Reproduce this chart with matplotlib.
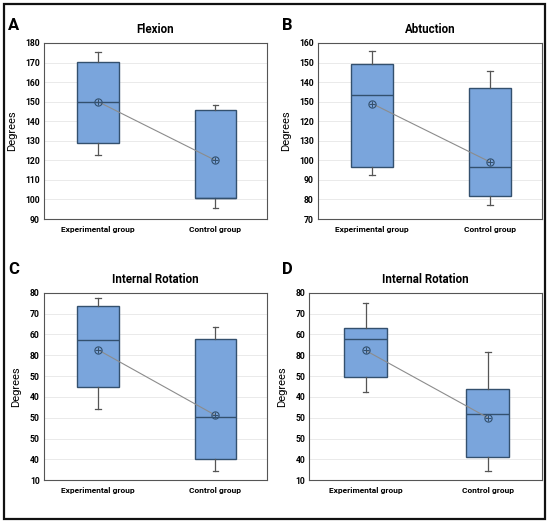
import numpy as np
import matplotlib
matplotlib.use("Agg")
import matplotlib.pyplot as plt
from matplotlib.patches import Rectangle

plt.rcParams['font.family'] = ['Roboto', 'DejaVu Sans']

# group names on the x axis
groups = ["Experimental group", "Control group"]

# panel letters and titles
letters = ["A", "B", "C", "D"]
titles = ["Flexion", "Abtuction", "Internal Rotation", "Internal Rotation"]

# y ticks (numeric positions) and the labels as printed on the figure
yticks_A = [90, 100, 110, 120, 130, 140, 150, 160, 170, 180]
ylabels_A = ["90", "100", "110", "120", "130", "140", "150", "160", "170", "180"]
yticks_B = [70, 80, 90, 100, 110, 120, 130, 140, 150, 160]
ylabels_B = ["70", "80", "90", "100", "130", "120", "150", "140", "150", "160"]
yticks_C = [0, 10, 20, 30, 40, 50, 60, 70, 80, 90]
ylabels_C = ["10", "40", "50", "50", "40", "50", "80", "60", "70", "80"]
yticks_D = [0, 10, 20, 30, 40, 50, 60, 70, 80, 90]
ylabels_D = ["10", "40", "50", "50", "40", "50", "80", "60", "70", "80"]

# box statistics per panel: [experimental, control]
whislo_A = [122.7, 95.7]
q1_A = [128.7, 100.8]
med_A = [149.7, 100.8]
q3_A = [170.5, 145.5]
whishi_A = [175.3, 148.5]
mean_A = [150.0, 120.0]

whislo_B = [92.7, 77.0]
q1_B = [96.6, 81.6]
med_B = [133.6, 96.8]
q3_B = [149.5, 137.2]
whishi_B = [155.9, 145.9]
mean_B = [129.0, 99.2]

whislo_C = [34.2, 4.5]
q1_C = [45.0, 10.2]
med_C = [67.4, 30.2]
q3_C = [83.4, 67.6]
whishi_C = [87.4, 73.5]
mean_C = [62.6, 31.2]

whislo_D = [42.5, 4.6]
q1_D = [49.7, 11.0]
med_D = [67.6, 31.8]
q3_D = [73.3, 43.6]
whishi_D = [85.3, 61.5]
mean_D = [62.3, 30.0]

panels = [
    (yticks_A, ylabels_A, whislo_A, q1_A, med_A, q3_A, whishi_A, mean_A),
    (yticks_B, ylabels_B, whislo_B, q1_B, med_B, q3_B, whishi_B, mean_B),
    (yticks_C, ylabels_C, whislo_C, q1_C, med_C, q3_C, whishi_C, mean_C),
    (yticks_D, ylabels_D, whislo_D, q1_D, med_D, q3_D, whishi_D, mean_D),
]

# axes rectangles in figure fractions
rects = [
    [0.080, 0.582, 0.4055, 0.336],
    [0.578, 0.582, 0.407, 0.336],
    [0.080, 0.0834, 0.4055, 0.358],
    [0.5624, 0.0834, 0.4225, 0.358],
]

BOX = "#7aa5dc"
EDGE = "#33506e"

fig = plt.figure(figsize=(5.5, 5.24), dpi=100)
fig.patch.set_facecolor("white")
fig.add_artist(Rectangle((4 / 550, 5 / 524), 541 / 550, 515 / 524,
                         transform=fig.transFigure, fill=False,
                         edgecolor="#111111", linewidth=1.6))

pos = [1, 2]
for i in range(4):
    yt, yl, wlo, q1, med, q3, whi, mn = panels[i]
    ax = fig.add_axes(rects[i])
    stats = []
    for j in range(2):
        stats.append(dict(whislo=wlo[j], q1=q1[j], med=med[j], q3=q3[j],
                          whishi=whi[j], mean=mn[j], fliers=[]))
    ax.bxp(stats, positions=pos, widths=0.35, patch_artist=True,
           showmeans=False, capwidths=0.045,
           boxprops=dict(facecolor=BOX, edgecolor=EDGE, linewidth=1.0),
           medianprops=dict(color=EDGE, linewidth=1.0),
           whiskerprops=dict(color="#555555", linewidth=0.9),
           capprops=dict(color="#555555", linewidth=0.9), zorder=3)
    ax.plot(pos, mn, color="#8c8c8c", linewidth=0.8, zorder=4)
    ax.plot(pos, mn, linestyle="none", marker="o", markersize=5.2,
            markerfacecolor="none", markeredgecolor=EDGE,
            markeredgewidth=0.8, zorder=5)
    ax.plot(pos, mn, linestyle="none", marker="+", markersize=3.8,
            markeredgecolor=EDGE, markeredgewidth=0.7, zorder=5)

    ax.set_xlim(0.54, 2.44)
    ax.set_ylim(yt[0], yt[-1])
    ax.set_yticks(yt)
    ax.set_yticklabels(yl)
    ax.set_xticks(pos)
    ax.set_xticklabels(groups)
    ax.yaxis.grid(True, color="#e6e6e6", linewidth=0.6, zorder=0)
    ax.set_axisbelow(True)
    ax.tick_params(axis="y", length=0, labelsize=6.2, pad=3)
    ax.tick_params(axis="x", length=0, labelsize=6.0, pad=5)
    for lab in ax.get_xticklabels() + ax.get_yticklabels():
        lab.set_fontweight("bold")
    for s in ax.spines.values():
        s.set_color("#555555")
        s.set_linewidth(0.8)
    ax.set_ylabel("Degrees", fontsize=8, labelpad=6)
    ax.set_title(titles[i], fontsize=8.3, fontweight="bold", pad=7)

    # panel letter
    lx = 0.024 if i % 2 == 0 else 0.522
    ly = 1 - 25 / 524 if i < 2 else 1 - 269 / 524
    fig.text(lx, ly, letters[i], fontsize=12, fontweight="bold",
             ha="center", va="center")

fig.savefig("out.png", dpi=100, facecolor="white")
